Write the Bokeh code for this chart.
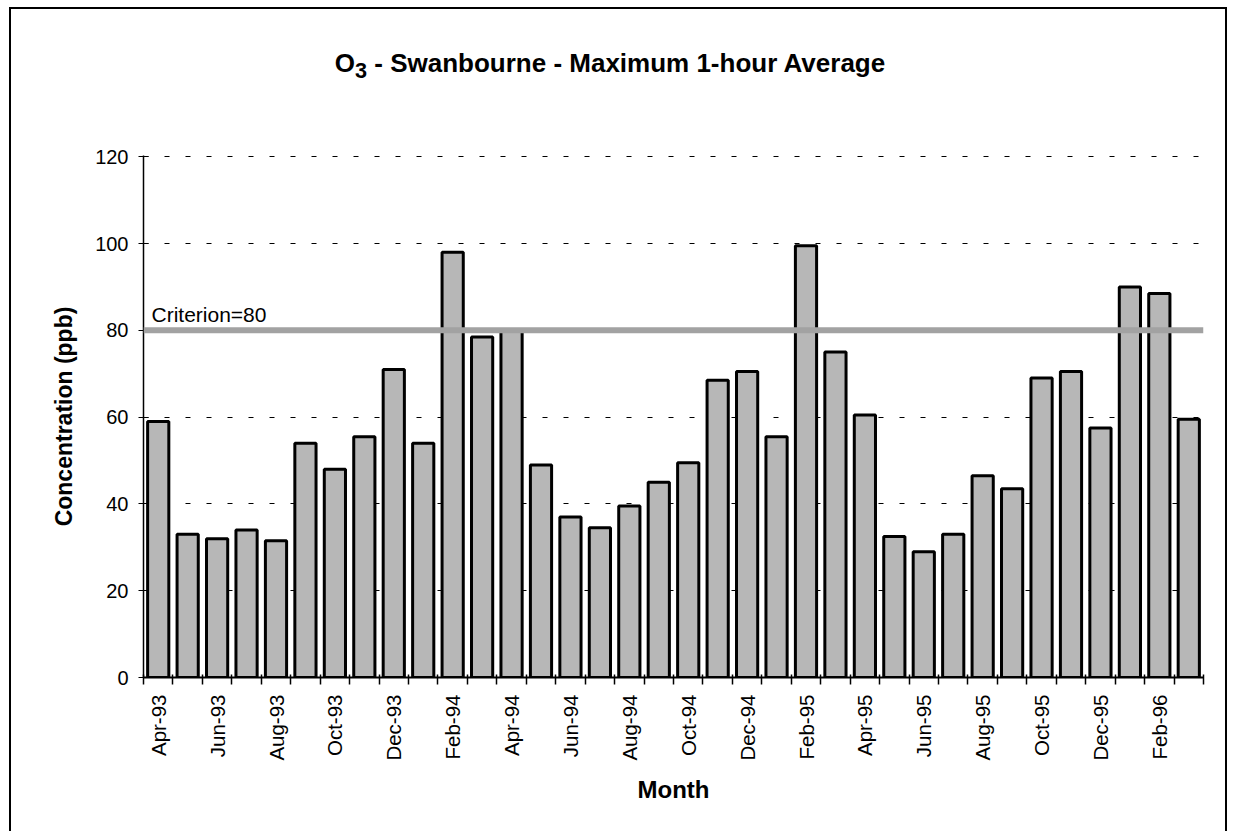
import math
from bokeh.plotting import figure
from bokeh.models import FixedTicker, Label, Span, Div
from bokeh.layouts import column
from bokeh.embed import file_html
from bokeh.resources import INLINE

# ---- data ----
months = ["Apr-93", "May-93", "Jun-93", "Jul-93", "Aug-93", "Sep-93", "Oct-93", "Nov-93", "Dec-93",
          "Jan-94", "Feb-94", "Mar-94", "Apr-94", "May-94", "Jun-94", "Jul-94", "Aug-94", "Sep-94",
          "Oct-94", "Nov-94", "Dec-94", "Jan-95", "Feb-95", "Mar-95", "Apr-95", "May-95", "Jun-95",
          "Jul-95", "Aug-95", "Sep-95", "Oct-95", "Nov-95", "Dec-95", "Jan-96", "Feb-96", "Mar-96"]
values = [59, 33, 32, 34, 31.5, 54, 48, 55.5, 71,
          54, 98, 78.5, 80, 49, 37, 34.5, 39.5, 45,
          49.5, 68.5, 70.5, 55.5, 99.5, 75, 60.5, 32.5, 29,
          33, 46.5, 43.5, 69, 70.5, 57.5, 90, 88.5, 59.5]
criterion = 80
y_ticks = [0, 20, 40, 60, 80, 100, 120]
title_html = "O<sub>3</sub> - Swanbourne - Maximum 1-hour Average"

FONT = "Liberation Sans"
xs = list(range(len(months)))

title = Div(
    text=('<div style="width:1198px;padding-top:39px;line-height:30px;'
          'font-family:\'Liberation Sans\';font-size:26px;font-weight:bold;'
          'text-align:center;color:black;">' + title_html + '</div>'),
    width=1198, height=100, margin=0)

p = figure(width=1214, height=722, x_range=(-0.5, len(months) - 0.5), y_range=(0, 120.3),
           output_backend="svg", toolbar_location=None, margin=0,
           min_border_left=132, min_border_right=22, min_border_top=46, min_border_bottom=154)
p.outline_line_color = None
p.background_fill_color = "white"
p.border_fill_color = "white"

# bars
p.vbar(x=xs, top=values, width=0.72, bottom=0, fill_color="#b7b7b7",
       line_color="black", line_width=3)

# criterion line
p.add_layout(Span(location=criterion, dimension="width", line_color="#a2a2a2", line_width=6))
p.add_layout(Label(x=-0.5, y=criterion, x_offset=8, y_offset=4, text=f"Criterion={criterion}",
                   text_font=FONT, text_font_size="21px", text_baseline="bottom", text_color="black"))

# grid
p.xgrid.visible = False
p.ygrid.ticker = FixedTicker(ticks=y_ticks[1:])
p.ygrid.grid_line_color = "black"
p.ygrid.grid_line_dash = "5 16"
p.ygrid.grid_line_width = 1

# y axis
ya = p.yaxis[0]
ya.ticker = FixedTicker(ticks=y_ticks)
ya.axis_line_color = "black"
ya.axis_line_width = 1.5
ya.major_tick_out = 5
ya.major_tick_in = 5
ya.minor_tick_line_color = None
ya.major_label_standoff = 10
ya.major_label_text_font = FONT
ya.major_label_text_font_size = "20px"
ya.major_label_text_color = "black"
ya.axis_label = "Concentration (ppb)"
ya.axis_label_text_font = FONT
ya.axis_label_text_font_size = "23px"
ya.axis_label_text_font_style = "bold"
ya.axis_label_text_color = "black"
ya.axis_label_standoff = 15

# x axis
xa = p.xaxis[0]
xa.ticker = FixedTicker(ticks=xs[::2], minor_ticks=[i - 0.5 for i in range(len(months) + 1)])
xa.major_label_overrides = {i: months[i] for i in xs[::2]}
xa.major_label_orientation = math.pi / 2
xa.axis_line_color = "black"
xa.axis_line_width = 2
xa.major_tick_out = 0
xa.major_tick_in = 0
xa.minor_tick_out = 7
xa.minor_tick_in = 3
xa.minor_tick_line_color = "black"
xa.minor_tick_line_width = 1.5
xa.major_label_standoff = 10
xa.major_label_text_font = FONT
xa.major_label_text_font_size = "20.5px"
xa.major_label_text_color = "black"
xa.axis_label = "Month"
xa.axis_label_text_font = FONT
xa.axis_label_text_font_size = "24px"
xa.axis_label_text_font_style = "bold"
xa.axis_label_text_color = "black"
xa.axis_label_standoff = 12

layout = column(title, p, spacing=0,
                styles={"border": "2px solid black", "border-bottom": "none",
                        "margin-left": "9px", "margin-top": "7px", "background": "white"})

open("out.html", "w").write(file_html(layout, INLINE))
